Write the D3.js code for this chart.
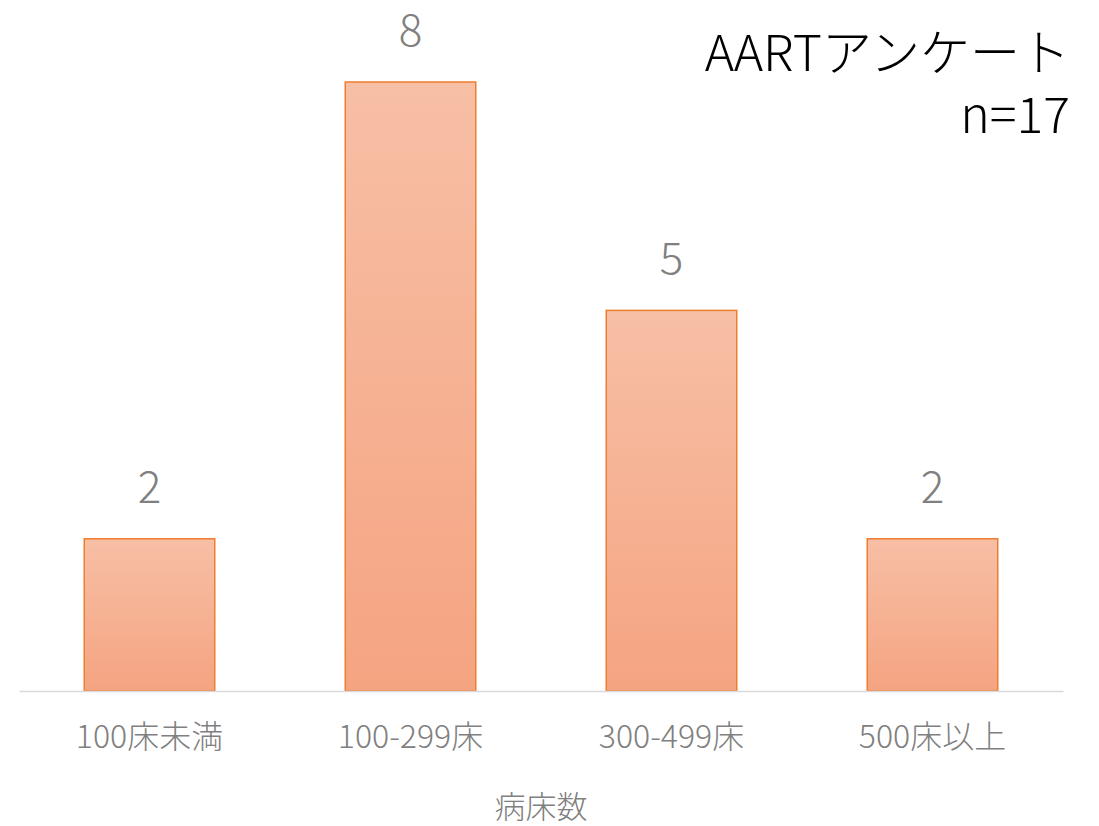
<!DOCTYPE html>
<html>
<head>
<meta charset="utf-8">
<script src="https://cdn.jsdelivr.net/npm/d3@7"></script>
<style>
  body { margin: 0; background: #fff; }
  text { font-family: 'Noto Sans CJK JP', 'Noto Sans', sans-serif; }
</style>
</head>
<body>
<svg id="chart"></svg>
<script>
const categories = ['100床未満', '100-299床', '300-499床', '500床以上']
const counts = [2, 8, 5, 2]
const titleLines = ['AARTアンケート', 'n=17']
const axisTitle = '病床数'

const width = 1099
const height = 826
const margin = { top: 82, right: 36, bottom: 135, left: 19 }

const svg = d3.select('#chart')
  .attr('width', width)
  .attr('height', height)

// vertical gradient for the bars
const grad = svg.append('defs').append('linearGradient')
  .attr('id', 'barFill')
  .attr('x1', 0).attr('y1', 0).attr('x2', 0).attr('y2', 1)
grad.append('stop').attr('offset', '0%').attr('stop-color', '#f7bfa5')
grad.append('stop').attr('offset', '100%').attr('stop-color', '#f5a481')

const x = d3.scaleBand()
  .domain(categories)
  .range([margin.left, width - margin.right])
  .paddingInner(0.5)
  .paddingOuter(0.25)

const y = d3.scaleLinear()
  .domain([0, 8])
  .range([height - margin.bottom, margin.top])

const data = categories.map((c, i) => ({ cat: c, value: counts[i] }))

svg.selectAll('.bar')
  .data(data)
  .enter()
  .append('rect')
  .attr('class', 'bar')
  .attr('x', d => x(d.cat))
  .attr('y', d => y(d.value))
  .attr('width', x.bandwidth())
  .attr('height', d => y(0) - y(d.value))
  .attr('fill', 'url(#barFill)')
  .attr('stroke', '#ed7d31')
  .attr('stroke-width', 1.5)

// baseline
const xAxis = svg.append('g')
  .attr('transform', `translate(0, ${y(0)})`)
  .call(d3.axisBottom(x).tickSize(0).tickPadding(34))
xAxis.select('.domain').attr('stroke', '#d9d9d9').attr('stroke-width', 1.5)
xAxis.selectAll('text')
  .attr('fill', '#808080')
  .style('font-size', '32px')
  .style('font-weight', 300)
  .style('font-family', "'Noto Sans CJK JP', sans-serif")

// value labels
svg.selectAll('.val')
  .data(data)
  .enter()
  .append('text')
  .attr('class', 'val')
  .attr('x', d => x(d.cat) + x.bandwidth() / 2)
  .attr('y', d => y(d.value) - 36)
  .attr('text-anchor', 'middle')
  .attr('fill', '#808080')
  .style('font-size', '44px')
  .style('font-weight', 300)
  .text(d => d.value)

// axis title
svg.append('text')
  .attr('x', 541)
  .attr('y', 818)
  .attr('text-anchor', 'middle')
  .attr('fill', '#808080')
  .style('font-size', '31px')
  .style('font-weight', 300)
  .text(axisTitle)

// title block, top right
svg.selectAll('.title')
  .data(titleLines)
  .enter()
  .append('text')
  .attr('class', 'title')
  .attr('x', 1070)
  .attr('y', (d, i) => 71 + i * 62)
  .attr('text-anchor', 'end')
  .attr('fill', '#000')
  .style('font-size', '50px')
  .style('font-weight', 300)
  .text(d => d)
</script>
</body>
</html>
